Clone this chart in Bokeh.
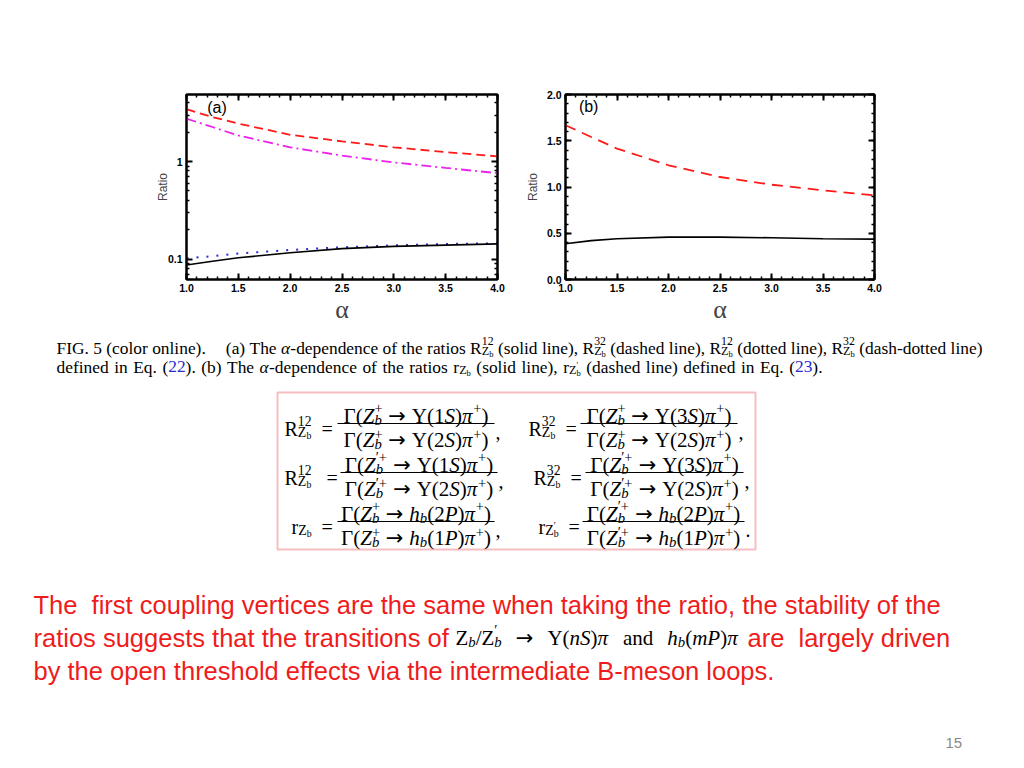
from bokeh.plotting import figure
from bokeh.models import (ColumnDataSource, FixedTicker, LinearAxis, LogAxis,
                          PrintfTickFormatter, CustomJSTickFormatter,
                          Range1d, BoxAnnotation, Spacer)
from bokeh.layouts import column, row
from bokeh.core.properties import field, value
from bokeh.embed import file_html
from bokeh.resources import INLINE

# ---------------- data ----------------
alpha_a = [1.0, 1.25, 1.5, 2.0, 2.5, 3.0, 3.5, 4.0]
R12_Zb = [0.087, 0.095, 0.103, 0.116, 0.128, 0.135, 0.139, 0.143]    # solid
R32_Zb = [3.44, 2.86, 2.45, 1.88, 1.61, 1.40, 1.25, 1.13]           # dashed
R12_Zpb = [0.102, 0.107, 0.114, 0.124, 0.132, 0.138, 0.143, 0.145]  # dotted
R32_Zpb = [2.75, 2.26, 1.85, 1.40, 1.15, 0.98, 0.86, 0.76]          # dash-dotted

alpha_b = [1.0, 1.25, 1.5, 2.0, 2.5, 3.0, 3.5, 4.0]
r_Zb = [0.386, 0.420, 0.440, 0.458, 0.458, 0.451, 0.440, 0.437]     # solid
r_Zpb = [1.668, 1.540, 1.415, 1.235, 1.108, 1.025, 0.964, 0.910]    # dashed

x_ticks = [1.0, 1.5, 2.0, 2.5, 3.0, 3.5, 4.0]
x_minor = [round(1.0 + 0.1 * i, 2) for i in range(31)]
ya_ticks = [0.1, 1.0]
ya_minor = [0.06, 0.07, 0.08, 0.09, 0.2, 0.3, 0.4, 0.5, 0.6, 0.7, 0.8, 0.9, 2, 3, 4]
yb_ticks = [0.0, 0.5, 1.0, 1.5, 2.0]
yb_minor = [round(0.1 * i, 2) for i in range(21)]

panel_tag_a = ["(a)"]
panel_tag_b = ["(b)"]

TOP_H = 329


def make_fig(width, mbl, y_range, log):
    kw = dict(width=width, height=TOP_H, x_range=Range1d(1.0, 4.0), y_range=y_range,
              x_axis_location=None, y_axis_location=None, toolbar_location=None,
              output_backend="svg", min_border_left=mbl, min_border_right=10,
              min_border_top=94, min_border_bottom=50,
              outline_line_color="black", outline_line_width=2,
              background_fill_color="white", border_fill_color="white")
    if log:
        kw["y_axis_type"] = "log"
    p = figure(**kw)
    p.grid.visible = False
    return p


def style_axis(ax, labels):
    ax.axis_line_width = 2
    ax.axis_line_color = "black"
    ax.major_tick_in = 6
    ax.major_tick_out = 0
    ax.major_tick_line_width = 2
    ax.minor_tick_in = 3
    ax.minor_tick_out = 0
    ax.minor_tick_line_width = 1.5
    ax.major_label_text_font = "Liberation Sans"
    ax.major_label_text_font_style = "bold"
    ax.major_label_text_color = "black"
    ax.major_label_text_font_size = "10.5px"
    ax.major_label_standoff = 4 if labels else 0


def add_axes(p, xt, yt, yfmt, log, ylab_standoff):
    AxY = LogAxis if log else LinearAxis
    blank = CustomJSTickFormatter(code="return '';")
    bottom = LinearAxis(ticker=xt, formatter=PrintfTickFormatter(format="%.1f"), axis_label="α")
    top = LinearAxis(ticker=xt, formatter=blank)
    left = AxY(ticker=yt, formatter=yfmt, axis_label="Ratio")
    right = AxY(ticker=yt, formatter=blank)
    for ax, lab in ((bottom, True), (top, False), (left, True), (right, False)):
        style_axis(ax, lab)
    bottom.axis_label_text_font = "Liberation Serif"
    bottom.axis_label_text_font_size = "26px"
    bottom.axis_label_text_font_style = "normal"
    bottom.axis_label_standoff = 0
    left.axis_label_text_font = "Liberation Sans"
    left.axis_label_text_font_size = "12px"
    left.axis_label_text_font_style = "normal"
    left.axis_label_text_color = "#444444"
    left.axis_label_standoff = ylab_standoff
    p.add_layout(bottom, "below")
    p.add_layout(top, "above")
    p.add_layout(left, "left")
    p.add_layout(right, "right")


def add_tag(p, x, y, txt):
    p.text(x=[x], y=[y], text=txt, text_baseline="top", text_align="left",
           text_font=value("Liberation Sans"), text_font_size="16px", text_color="black")


# ---- panel (a) ----
fa = make_fig(381, 60, Range1d(0.0617, 4.87), True)
add_axes(fa, FixedTicker(ticks=x_ticks, minor_ticks=x_minor),
         FixedTicker(ticks=ya_ticks, minor_ticks=ya_minor),
         CustomJSTickFormatter(code="return tick < 0.99 ? tick.toFixed(1) : tick.toFixed(0);"),
         True, -5)
fa.line(alpha_a, R32_Zb, line_color="#ff1a1a", line_width=1.8, line_dash="9 5")
fa.line(alpha_a, R32_Zpb, line_color="#ee22ee", line_width=1.8, line_dash="10 4 2 4")
fa.line(alpha_a, R12_Zpb, line_color="#2a2ad6", line_width=2, line_dash="2 8")
fa.line(alpha_a, R12_Zb, line_color="black", line_width=1.6)
add_tag(fa, 1.2, 4.4, panel_tag_a)

# ---- panel (b) ----
fb = make_fig(377, 58, Range1d(0.0, 2.0), False)
add_axes(fb, FixedTicker(ticks=x_ticks, minor_ticks=x_minor),
         FixedTicker(ticks=yb_ticks, minor_ticks=yb_minor),
         PrintfTickFormatter(format="%.1f"), False, 4)
fb.line(alpha_b, r_Zpb, line_color="#ff1a1a", line_width=1.8, line_dash="11 7")
fb.line(alpha_b, r_Zb, line_color="black", line_width=1.6)
add_tag(fb, 1.13, 1.96, panel_tag_b)

# ---------------- text part of the slide ----------------
TIMES = {' ': 250, '(': 333, ')': 333, '+': 564, ',': 250, '-': 333, '.': 250, '/': 278, '=': 564,
         'A': 722, 'B': 667, 'C': 667, 'D': 722, 'E': 611, 'F': 556, 'G': 722, 'H': 722, 'I': 333,
         'J': 389, 'K': 722, 'L': 611, 'M': 889, 'N': 722, 'O': 722, 'P': 556, 'Q': 722, 'R': 667,
         'S': 556, 'T': 611, 'U': 722, 'V': 722, 'W': 944, 'X': 722, 'Y': 722, 'Z': 611,
         'a': 444, 'b': 500, 'c': 444, 'd': 500, 'e': 444, 'f': 333, 'g': 500, 'h': 500, 'i': 278,
         'j': 278, 'k': 500, 'l': 278, 'm': 778, 'n': 500, 'o': 500, 'p': 500, 'q': 500, 'r': 333,
         's': 389, 't': 278, 'u': 500, 'v': 500, 'w': 722, 'x': 500, 'y': 500, 'z': 444,
         'Γ': 578, 'Υ': 722, 'α': 540, 'π': 550, '′': 250}
TIMES_I = {'Z': 556, 'S': 500, 'P': 611, 'h': 500, 'b': 500, 'n': 500, 'm': 722, 'α': 540, 'π': 540}
ARROW_W = 0.838  # width of the arrow glyph in DejaVu Sans (em)


def tw(s, italic):
    t = TIMES_I if italic else {}
    return sum(t.get(c, TIMES.get(c, 500)) for c in s) / 1000.0


segs = {k: [] for k in ("x", "y", "text", "size", "style", "color", "font")}


def put(x, y, s, fs, style="normal", color="black", font="Liberation Serif"):
    segs["x"].append(x)
    segs["y"].append(y)
    segs["text"].append(s)
    segs["size"].append("%.1fpx" % fs)
    segs["style"].append(style)
    segs["color"].append(color)
    segs["font"].append(font)


def run(x, y, parts, fs, draw=True, stretch=0.0, color="black", up=0.36):
    for p in parts:
        k = p[0]
        if k == "g":
            x += p[1] * fs
        elif k == "s":
            x += 0.25 * fs + stretch
        elif k == "a":
            if draw:
                put(x, y, "→", fs, "normal", color, "DejaVu Sans")
            x += ARROW_W * fs
        elif k in ("n", "i"):
            c = p[2] if len(p) > 2 else color
            if draw:
                put(x, y, p[1], fs, "italic" if k == "i" else "normal", c)
            x += tw(p[1], k == "i") * fs
        elif k == "sp":
            x = run(x, y - up * fs, p[1], 0.68 * fs, draw, 0, color)
        elif k == "sb":
            x = run(x, y + 0.22 * fs, p[1], 0.7 * fs, draw, 0, color)
        elif k == "st":
            x1 = run(x, y - up * fs, p[1], 0.68 * fs, draw, 0, color)
            x2 = run(x, y + 0.22 * fs, p[2], 0.7 * fs, draw, 0, color)
            x = max(x1, x2)
    return x


def fit(x0, x1, y, parts, fs):
    nat = run(0, 0, parts, fs, draw=False)
    n = max(sum(1 for p in parts if p[0] == "s"), 1)
    run(x0, y, parts, fs, stretch=(x1 - x0 - nat) / n)


def zsub(prime):
    if prime:
        return [("n", "Z"), ("st", [("n", "′")], [("n", "b")])]
    return [("n", "Z"), ("sb", [("n", "b")])]


def Rgrp(sup, prime):
    return [("n", "R"), ("st", [("n", sup)], zsub(prime))]


def rgrp(prime):
    return [("n", "r"), ("sb", zsub(prime))]


# caption
CAP_FS = 17.4
BLUE = "#2a2ad0"
S = ("s",)
cap1 = [("n", "FIG. 5 (color online)."), ("g", 0.9), S, ("n", "(a)"), S, ("n", "The"), S,
        ("i", "α"), ("n", "-dependence"), S, ("n", "of"), S, ("n", "the"), S, ("n", "ratios"), S,
        *Rgrp("12", False), S, ("n", "(solid"), S, ("n", "line),"), S,
        *Rgrp("32", False), S, ("n", "(dashed"), S, ("n", "line),"), S,
        *Rgrp("12", True), S, ("n", "(dotted"), S, ("n", "line),"), S,
        *Rgrp("32", True), S, ("n", "(dash-dotted"), S, ("n", "line)")]
fit(56, 982, 347, cap1, CAP_FS)
cap2 = [("n", "defined"), S, ("n", "in"), S, ("n", "Eq."), S, ("n", "("), ("n", "22", BLUE),
        ("n", ")."), S, ("n", "(b)"), S, ("n", "The"), S, ("i", "α"), ("n", "-dependence"), S,
        ("n", "of"), S, ("n", "the"), S, ("n", "ratios"), S, *rgrp(False), S, ("n", "(solid"), S,
        ("n", "line),"), S, *rgrp(True), S, ("n", "(dashed"), S, ("n", "line)"), S,
        ("n", "defined"), S, ("n", "in"), S, ("n", "Eq."), S, ("n", "("), ("n", "23", BLUE),
        ("n", ").")]
fit(56, 822, 366, cap2, CAP_FS)

# formula box
FS = 21
ARROW = [("g", 0.28), ("a",), ("g", 0.28)]


def zplus(prime):
    return [("i", "Z"), ("st", [("n", "′+" if prime else "+")], [("i", "b")])]


def ups(n, prime):
    return [("n", "Γ("), *zplus(prime), *ARROW, ("n", "Υ(" + n), ("i", "S"), ("n", ")"),
            ("i", "π"), ("sp", [("n", "+")]), ("n", ")")]


def hbp(n, prime):
    return [("n", "Γ("), *zplus(prime), *ARROW, ("i", "h"), ("sb", [("i", "b")]), ("n", "(" + n),
            ("i", "P"), ("n", ")"), ("i", "π"), ("sp", [("n", "+")]), ("n", ")")]


rows_y = [(415, 423, 439, 428), (464, 472, 488, 477), (513, 521, 537, 526)]
formulas = [
    (Rgrp("12", False), 284, 321, 337, 494, ups("1", False), ups("2", False), ",", 0),
    (Rgrp("12", True), 284, 326, 340, 497, ups("1", True), ups("2", True), ",", 1),
    (rgrp(False), 291, 321, 337, 494, hbp("2", False), hbp("1", False), ",", 2),
    (Rgrp("32", False), 528, 565, 580, 737, ups("3", False), ups("2", False), ",", 0),
    (Rgrp("32", True), 533, 570, 585, 743, ups("3", True), ups("2", True), ",", 1),
    (rgrp(True), 538, 568, 582, 744, hbp("2", True), hbp("1", True), ".", 2),
]
bars = {"x0": [], "x1": [], "y": []}
for lhs, xl, xe, b0, b1, num, den, punct, r in formulas:
    yn, yb, yd, yl = rows_y[r]
    run(xl, yl, lhs, 20)
    put(xe, yl, "=", 20)
    c = 0.5 * (b0 + b1)
    wn = run(0, 0, num, FS, draw=False)
    wd = run(0, 0, den, FS, draw=False)
    run(c - wn / 2, yn, num, FS)
    run(c - wd / 2, yd, den, FS, up=0.27)
    bars["x0"].append(b0)
    bars["x1"].append(b1)
    bars["y"].append(yb)
    put(b1 + 1, yl + 3, punct, 20)

# red paragraph
RED = "#ee1c1c"
PFS = 25.5
SANS = "Liberation Sans"
put(33, 604, "The", PFS, color=RED, font=SANS)
put(33 + 2.279 * PFS, 604,
    "first coupling vertices are the same when taking the ratio, the stability of the",
    PFS, color=RED, font=SANS)
put(33, 637, "ratios suggests that the transitions of", PFS, color=RED, font=SANS)
inl = [("n", "Z"), ("sb", [("i", "b")]), ("n", "/Z"), ("st", [("n", "′")], [("i", "b")]), S,
       ("a",), S, ("n", "Υ("), ("i", "nS"), ("n", ")"), ("i", "π"), S, ("n", "and"), S,
       ("i", "h"), ("sb", [("i", "b")]), ("n", "("), ("i", "mP"), ("n", ")"), ("i", "π")]
fit(455, 738, 637, inl, 21)
put(747, 637, "are", PFS, color=RED, font=SANS)
put(747 + 2.001 * PFS, 637, "largely driven", PFS, color=RED, font=SANS)
put(33, 670, "by the open threshold effects via the intermediate B-meson loops.", PFS,
    color=RED, font=SANS)
put(945, 742, "15", 15, color="#8a8a8a", font=SANS)

TXT_H = 768 - TOP_H
ft = figure(width=1024, height=TXT_H, x_range=Range1d(0, 1024), y_range=Range1d(768, TOP_H),
            x_axis_location=None, y_axis_location=None, toolbar_location=None,
            output_backend="svg", min_border=0, outline_line_color=None,
            background_fill_color="white", border_fill_color="white")
ft.grid.visible = False
ft.add_layout(BoxAnnotation(left=277, right=755, top=392, bottom=549, fill_alpha=0,
                            line_color="#e0282f", line_width=2))
ft.segment(x0="x0", y0="y", x1="x1", y1="y", source=ColumnDataSource(bars),
           line_color="black", line_width=1.2)
ft.text(x="x", y="y", text="text", source=ColumnDataSource(segs),
        text_font=field("font"), text_font_size=field("size"), text_font_style=field("style"),
        text_color=field("color"), text_align="left", text_baseline="alphabetic")

layout = column(row(Spacer(width=126, height=TOP_H), fa, fb), ft)
open("out.html", "w").write(file_html(layout, INLINE))
